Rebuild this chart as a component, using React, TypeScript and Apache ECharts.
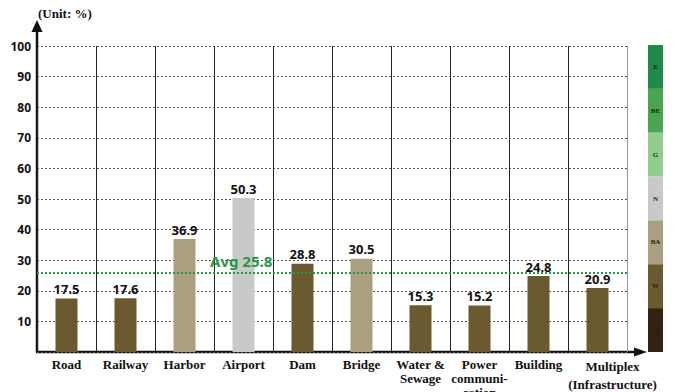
import React, { useEffect, useRef } from "react";
import * as echarts from "echarts";

const categories = [
  "Road",
  "Railway",
  "Harbor",
  "Airport",
  "Dam",
  "Bridge",
  "Water &\nSewage",
  "Power\ncommuni-\ncation",
  "Building",
  "Multiplex\n(Infrastructure)",
];
const values = [17.5, 17.6, 36.9, 50.3, 28.8, 30.5, 15.3, 15.2, 24.8, 20.9];
const grades = ["W", "W", "BA", "N", "W", "BA", "W", "W", "W", "W"];
const legendGrades = ["E", "BE", "G", "N", "BA", "W", "T"];
const gradeColors: Record<string, string> = {
  E: "#1f8a4a",
  BE: "#49a64f",
  G: "#90cd8f",
  N: "#c9c9c9",
  BA: "#aa9f80",
  W: "#6b5a2f",
  T: "#34200f",
};
const yTicks = [0, 10, 20, 30, 40, 50, 60, 70, 80, 90, 100];

const W = 675;
const H = 392;
const GL = 37;
const GR = 627;
const GT = 46;
const GB = 352;

export default function App() {
  const ref = useRef<HTMLDivElement>(null);
  useEffect(() => {
    document.body.style.margin = "0";
    if (!ref.current) return;
    const chart = echarts.init(ref.current, null, { renderer: "svg" });
    const segH = (GB - 45) / legendGrades.length;
    const legendEls: any[] = [];
    legendGrades.forEach((g, i) => {
      legendEls.push({
        type: "rect",
        shape: { x: 648, y: 45 + i * segH, width: 15, height: segH },
        style: { fill: gradeColors[g] },
      });
      legendEls.push({
        type: "text",
        x: 655.5,
        y: 45 + i * segH + segH / 2,
        style: {
          text: g,
          fill: "#222",
          font: "bold 7px 'Liberation Serif'",
          align: "center",
          verticalAlign: "middle",
        },
      });
    });
    const splitColors = categories.map(() => "#222");
    splitColors.push("#999");
    chart.setOption({
      animation: false,
      grid: {
        left: GL,
        right: W - GR,
        top: GT,
        bottom: H - GB,
        containLabel: false,
        outerBoundsMode: "none",
      },
      xAxis: {
        type: "category",
        data: categories.map((c, i) =>
          i === 9
            ? { value: c, textStyle: { lineHeight: 18, padding: [0, 0, 0, 30] } }
            : c
        ),
        axisLine: { show: false },
        axisTick: { show: false },
        axisLabel: {
          interval: 0,
          margin: 5,
          color: "#111",
          fontFamily: "'Liberation Serif', serif",
          fontWeight: "bold",
          fontSize: 13,
          lineHeight: 14,
        },
        splitLine: { show: true, lineStyle: { color: splitColors, width: 1 } },
      },
      yAxis: {
        type: "value",
        min: yTicks[0],
        max: yTicks[yTicks.length - 1],
        interval: 10,
        axisLine: { show: false },
        axisTick: { show: false },
        axisLabel: {
          showMinLabel: false,
          color: "#111",
          fontFamily: "'Noto Sans'",
          fontWeight: "bold",
          fontSize: 12,
          margin: 6,
        },
        splitLine: {
          show: true,
          lineStyle: { color: "#555", type: [2, 2], width: 1 },
        },
      },
      series: [
        {
          type: "bar",
          barWidth: 22,
          data: values.map((v, i) => ({
            value: v,
            itemStyle: { color: gradeColors[grades[i]] },
          })),
          label: {
            show: true,
            position: "top",
            distance: 3,
            color: "#111",
            fontFamily: "'Noto Sans'",
            fontWeight: "bold",
            fontSize: 13,
          },
          markLine: {
            symbol: "none",
            silent: true,
            precision: 1,
            lineStyle: { color: "#1f9a45", type: [2, 2], width: 2 },
            label: {
              position: "insideStartTop",
              distance: [173, 5],
              formatter: (p: any) => "Avg " + Number(p.value).toFixed(1),
              color: "#1f9a45",
              fontFamily: "'Noto Sans'",
              fontWeight: "bold",
              fontSize: 15,
            },
            data: [{ type: "average", name: "Avg" }],
          },
        },
      ],
      graphic: [
        {
          type: "text",
          x: 38,
          y: 13,
          style: {
            text: "(Unit: %)",
            fill: "#111",
            font: "bold 13px 'Liberation Serif'",
            verticalAlign: "middle",
          },
        },
        {
          type: "line",
          shape: { x1: GL, y1: GB, x2: GL, y2: 28 },
          style: { stroke: "#111", lineWidth: 2.5 },
        },
        {
          type: "polygon",
          shape: { points: [[GL - 5.5, 32], [GL + 5.5, 32], [GL, 20]] },
          style: { fill: "#111" },
        },
        {
          type: "line",
          shape: { x1: GL - 1, y1: GB, x2: 638, y2: GB },
          style: { stroke: "#111", lineWidth: 2.5 },
        },
        {
          type: "polygon",
          shape: { points: [[634, GB - 4.5], [634, GB + 4.5], [647, GB]] },
          style: { fill: "#111" },
        },
        ...legendEls,
      ],
    });
    return () => chart.dispose();
  }, []);
  return <div ref={ref} style={{ width: W, height: H }} />;
}
